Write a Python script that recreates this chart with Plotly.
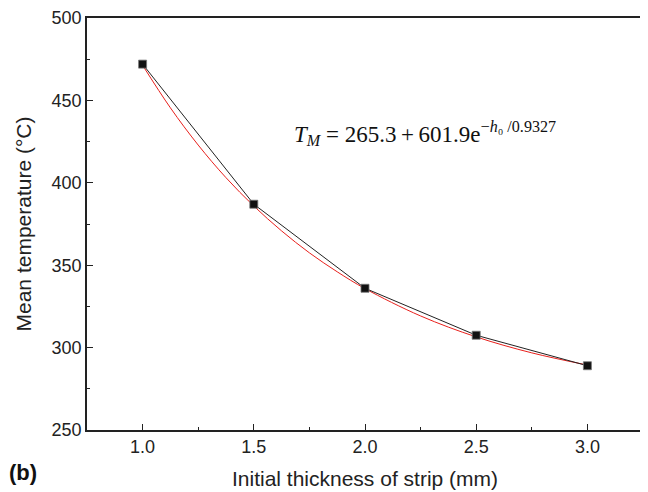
import plotly.graph_objects as go

thickness = [1.0, 1.5, 2.0, 2.5, 3.0]
mean_temp = [472.0, 387.0, 336.0, 307.5, 289.0]

fit_x = [1.0, 1.125, 1.25, 1.375, 1.5, 1.625, 1.75, 1.875, 2.0, 2.25, 2.5, 2.75, 3.0]
fit_y = [471.3, 445.5, 422.9, 403.1, 385.9, 370.8, 357.5, 346.0, 335.8, 319.2, 306.5, 296.8, 289.4]

x_ticks = [1.0, 1.5, 2.0, 2.5, 3.0]
x_tick_labels = ["1.0", "1.5", "2.0", "2.5", "3.0"]
y_ticks = [250, 300, 350, 400, 450, 500]

OFF = 8  # page body margin
L, R, T, B = 87 - OFF, 643 - OFF, 18 - OFF, 430 - OFF
W, H = 648 - OFF, 492 - OFF

fig = go.Figure()
fig.add_trace(go.Scatter(x=fit_x, y=fit_y, mode="lines", line=dict(color="#e8201c", width=1, shape="spline"),
                         showlegend=False, hoverinfo="skip"))
fig.add_trace(go.Scatter(x=thickness, y=mean_temp, mode="lines+markers",
                         line=dict(color="#222222", width=1),
                         marker=dict(symbol="square", size=8, color="#111111", line=dict(color="#777777", width=0.8)),
                         showlegend=False))

sans = "Liberation Sans, Arial, sans-serif"
axis_font = dict(family=sans, size=18, color="#222222")
title_font = dict(family=sans, size=21, color="#222222")
fig.update_xaxes(range=[0.75, 3.25], tickvals=x_ticks, ticktext=x_tick_labels, ticks="inside", ticklen=6,
                 tickwidth=1.2, tickcolor="#222222", showline=True, linewidth=1.5, linecolor="#222222",
                 mirror=True, showgrid=False, zeroline=False, tickfont=axis_font, automargin=False,
                 ticklabeloverflow="allow",
                 minor=dict(dtick=0.25, tick0=0.75, ticks="inside", ticklen=3, tickwidth=1, tickcolor="#222222"),
                 title=dict(text="Initial thickness of strip (mm)", font=title_font, standoff=15))
fig.update_yaxes(range=[250, 500], tickvals=y_ticks, ticks="inside", ticklen=6,
                 tickwidth=1.2, tickcolor="#222222", showline=True, linewidth=1.5, linecolor="#222222",
                 mirror=True, showgrid=False, zeroline=False, tickfont=axis_font, automargin=False,
                 ticklabeloverflow="allow",
                 minor=dict(dtick=25, ticks="inside", ticklen=3, tickwidth=1, tickcolor="#222222"),
                 title=dict(text="Mean temperature (°C)", font=title_font, standoff=14))

fig.add_annotation(xref="paper", yref="paper", x=(292 - OFF - L) / (R - L), y=1 - (133 - OFF - T) / (B - T),
                   xanchor="left", yanchor="middle", showarrow=False,
                   text="<i>T</i><sub><i>M</i></sub> = 265.3\u2009+\u2009601.9e<sup>−<i>h</i>₀ /0.9327</sup>",
                   font=dict(family="Liberation Serif, Times New Roman, serif", size=23, color="#111111"))
fig.add_annotation(xref="paper", yref="paper", x=(7 - OFF - L) / (R - L), y=1 - (472 - OFF - T) / (B - T),
                   xanchor="left", yanchor="middle", showarrow=False, text="<b>(b)</b>",
                   font=dict(family=sans, size=22, color="#111111"))

fig.update_layout(width=W, height=H, margin=dict(l=L, r=W - R, t=T, b=H - B),
                  plot_bgcolor="white", paper_bgcolor="white")
fig.write_html("out.html")
